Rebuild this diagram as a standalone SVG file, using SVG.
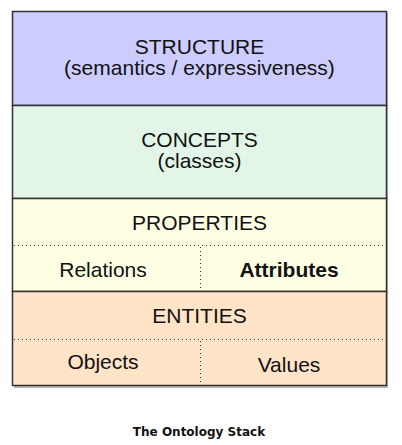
<svg xmlns="http://www.w3.org/2000/svg" width="402" height="445" viewBox="0 0 402 445">
<style>
.lbl{font-family:"Liberation Sans",Arial,sans-serif;font-size:21px;fill:#111;text-anchor:middle}
.b{font-weight:bold}
.box{stroke:#333;stroke-width:1.5}
.dot{stroke:#333;stroke-width:1;stroke-dasharray:1 3;fill:none}
.cap{font-family:"DejaVu Sans",Verdana,sans-serif;font-size:12px;font-weight:bold;fill:#111;text-anchor:middle}
</style>
<rect x="14" y="13" width="374" height="375" fill="#bbb"/>
<g id="structure">
<rect class="box" x="12.5" y="11.5" width="374" height="94" fill="#ccccff"/>
<text class="lbl" x="199.5" y="54">STRUCTURE</text>
<text class="lbl" x="199.5" y="75">(semantics / expressiveness)</text>
</g>
<g id="concepts">
<rect class="box" x="12.5" y="105.5" width="374" height="93" fill="#e3f5e7"/>
<text class="lbl" x="199.5" y="147">CONCEPTS</text>
<text class="lbl" x="199.5" y="168">(classes)</text>
</g>
<g id="properties">
<rect class="box" x="12.5" y="198.5" width="374" height="93" fill="#ffffe3"/>
<text class="lbl" x="199.5" y="230">PROPERTIES</text>
<line class="dot" x1="14" y1="245.5" x2="386" y2="245.5"/>
<line class="dot" x1="200.5" y1="247" x2="200.5" y2="291"/>
<text class="lbl" x="103" y="277">Relations</text>
<text class="lbl b" x="289" y="277">Attributes</text>
</g>
<g id="entities">
<rect class="box" x="12.5" y="291.5" width="374" height="94" fill="#ffe4c8"/>
<text class="lbl" x="199.5" y="323">ENTITIES</text>
<line class="dot" x1="14" y1="339.5" x2="386" y2="339.5"/>
<line class="dot" x1="200.5" y1="341" x2="200.5" y2="385"/>
<text class="lbl" x="103" y="369">Objects</text>
<text class="lbl" x="289" y="372">Values</text>
</g>
<g id="connectors"/>
<text class="cap" x="199" y="436">The Ontology Stack</text>
</svg>
